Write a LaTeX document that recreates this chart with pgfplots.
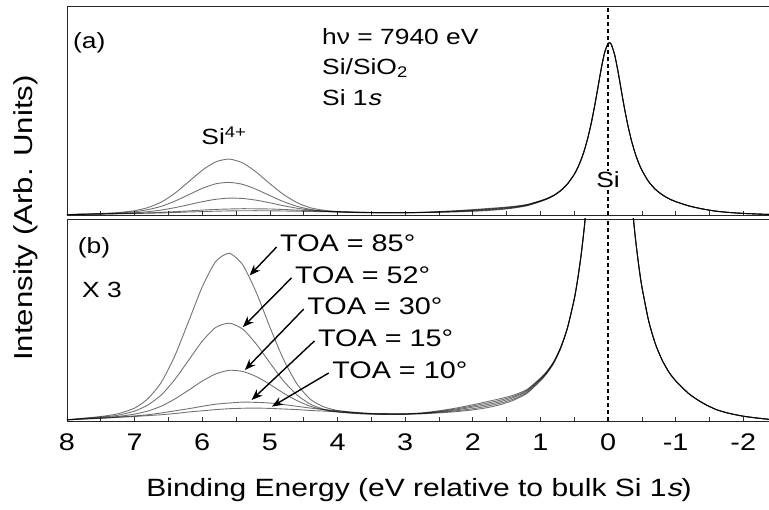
\documentclass[border=0pt]{standalone}
\usepackage{fontspec}
\setmainfont{Liberation Sans}[FakeStretch=1.2]
\newfontfamily\slfont{Liberation Sans}[FakeStretch=1.2, FakeSlant=0.22]
\usepackage{pgfplots}
\usepackage{pgfplotstable}
\pgfplotsset{compat=1.18}
\usetikzlibrary{arrows.meta}

% Si 1s spectra for the five take-off angles (panel a scale; panel b shows the same x3)
\pgfplotstableread{
x     a85    a52    a30    a15    a10
-2.4  0.5    0.5    0.5    0.5    0.5
-2.2  1.0    1.0    1.0    1.0    1.0
-2.0  1.6    1.6    1.6    1.6    1.6
-1.8  2.5    2.5    2.5    2.5    2.5
-1.6  3.8    3.8    3.8    3.8    3.8
-1.4  6.0    6.0    6.0    6.0    6.0
-1.2  9.0    9.0    9.0    9.0    9.0
-1.0  13.4   13.4   13.4   13.4   13.4
-0.9  16.3   16.3   16.3   16.3   16.3
-0.8  20.3   20.3   20.3   20.3   20.3
-0.7  25.7   25.7   25.7   25.7   25.7
-0.6  33.4   33.4   33.4   33.4   33.4
-0.5  44.8   44.8   44.8   44.8   44.8
-0.45 52.5   52.5   52.5   52.5   52.5
-0.4  61.9   61.9   61.9   61.9   61.9
-0.35 73.5   73.5   73.5   73.5   73.5
-0.3  87.6   87.6   87.6   87.6   87.6
-0.25 104.2  104.2  104.2  104.2  104.2
-0.2  123.0  123.0  123.0  123.0  123.0
-0.15 142.6  142.6  142.6  142.6  142.6
-0.1  159.6  159.6  159.6  159.6  159.6
-0.05 170.4  170.4  170.4  170.4  170.4
-0.02 172.3  172.3  172.3  172.3  172.3
0     171.5  171.5  171.5  171.5  171.5
0.05  162.6  162.6  162.6  162.6  162.6
0.1   146.6  146.6  146.6  146.6  146.6
0.15  127.3  127.3  127.3  127.3  127.3
0.2   108.4  108.4  108.4  108.4  108.4
0.25  91.2   91.2   91.2   91.2   91.2
0.3   76.9   76.9   76.8   76.8   76.8
0.35  64.8   64.8   64.7   64.7   64.7
0.4   55.0   55.0   55.0   54.9   54.9
0.45  47.2   47.1   47.1   47.0   47.0
0.5   40.7   40.6   40.6   40.5   40.5
0.6   31.2   31.1   31.0   31.0   30.9
0.7   24.6   24.5   24.4   24.3   24.2
0.8   19.9   19.8   19.7   19.5   19.4
0.9   16.7   16.5   16.3   16.2   16.0
1.0   14.3   14.1   13.9   13.6   13.4
1.2   10.5   10.2   9.9    9.5    9.2
1.4   8.6    8.2    7.8    7.3    6.9
1.6   7.4    6.9    6.4    5.9    5.4
1.8   6.4    5.9    5.4    4.9    4.4
2.0   5.4    5.0    4.6    4.1    3.7
2.25  4.3    4.0    3.7    3.4    3.1
2.5   3.4    3.2    3.05   2.9    2.7
2.75  2.7    2.6    2.6    2.5    2.4
3.0   2.4    2.3    2.3    2.3    2.3
3.25  2.35   2.3    2.2    2.35   2.35
3.5   2.45   2.35   2.25   2.5    2.45
3.75  2.8    2.65   2.5    2.9    2.75
4.0   3.5    3.15   3.0    3.4    3.05
4.2   4.7    3.9    3.7    3.8    3.3
4.4   7.2    5.6    4.9    4.3    3.5
4.6   12.4   8.7    6.8    4.9    3.8
4.8   20.6   13.4   9.3    5.5    4.0
5.0   31.3   19.4   12.2   6.0    4.2
5.2   42.8   25.6   14.8   6.2    4.3
5.4   52.0   30.6   16.5   6.3    4.25
5.6   55.9   32.6   16.9   6.0    4.1
5.8   53.2   31.2   15.7   5.6    3.8
6.0   44.7   26.6   13.3   4.9    3.4
6.2   33.3   20.3   10.3   4.1    3.0
6.4   22.0   14.0   7.4    3.4    2.5
6.6   13.1   8.8    5.0    2.7    2.1
6.8   7.5    5.4    3.35   2.1    1.8
7.0   4.3    3.3    2.3    1.7    1.5
7.25  2.4    1.9    1.5    1.3    1.2
7.5   1.5    1.3    1.1    0.95   0.9
7.75  0.95   0.85   0.7    0.67   0.66
8.0   0.45   0.4    0.38   0.37   0.36
}\spectra

\pgfplotsset{
  panel/.style={
    scale only axis, width=702pt,
    xmin=-2.38, xmax=8, x dir=reverse, ymin=0,
    axis x line*=box, axis y line*=left,
    xtick={-2,-1,0,1,2,3,4,5,6,7,8}, minor x tick num=1,
    xtick pos=bottom, ytick=\empty,
    tick align=inside,
    major tick length=4pt, minor tick length=4pt,
    every tick/.style={black!80, line width=0.7pt},
    axis line style={black!85, line width=0.9pt},
  },
  curve/.style={black, draw opacity=0.55, line width=0.9pt, smooth, tension=0.4},
}
\tikzset{
  toa/.style={anchor=west, inner sep=0pt, font=\fontsize{24}{28}\selectfont},
  toaarr/.style={-{Stealth[length=11pt,width=8.5pt]}, line width=1.4pt, black},
  vdash/.style={black, line width=1.3pt, dash pattern=on 4pt off 3pt},
}

\begin{document}
\begin{tikzpicture}
\useasboundingbox (0,0) rectangle (769pt,-510pt);

% (a) as measured
\begin{axis}[panel, at={(67pt,-215pt)}, anchor=south west, height=209pt, ymax=209,
  xticklabels=\empty]
\addplot[curve] table[x=x,y=a85] {\spectra};
\addplot[curve] table[x=x,y=a52] {\spectra};
\addplot[curve] table[x=x,y=a30] {\spectra};
\addplot[curve] table[x=x,y=a15] {\spectra};
\addplot[curve] table[x=x,y=a10] {\spectra};
\draw[vdash] (axis cs:0,0) -- (axis cs:0,209);
\node[fill=white, inner sep=1pt, font=\fontsize{22}{26}\selectfont] at (axis cs:0,35) {Si};
\end{axis}

% (b) magnified x3
\begin{axis}[panel, at={(67pt,-421pt)}, anchor=south west, height=202pt, ymax=67.33,
  xticklabels={-2,-1,0,1,2,3,4,5,6,7,8},
  xticklabel style={font=\fontsize{24}{28}\selectfont, yshift=-9pt}]
\addplot[curve] table[x=x,y=a85] {\spectra};
\addplot[curve] table[x=x,y=a52] {\spectra};
\addplot[curve] table[x=x,y=a30] {\spectra};
\addplot[curve] table[x=x,y=a15] {\spectra};
\addplot[curve] table[x=x,y=a10] {\spectra};
\draw[vdash] (axis cs:0,0) -- (axis cs:0,67.33);
\node[toa] at (axis cs:4.85,59.3) {TOA = 85°};
\node[toa] at (axis cs:4.63,48.7) {TOA = 52°};
\node[toa] at (axis cs:4.45,38.3) {TOA = 30°};
\node[toa] at (axis cs:4.29,27.7) {TOA = 15°};
\node[toa] at (axis cs:4.08,17.0) {TOA = 10°};
\draw[toaarr] (axis cs:4.90,58.0) -- (axis cs:5.30,48.5);
\draw[toaarr] (axis cs:4.68,47.7) -- (axis cs:5.40,31.3);
\draw[toaarr] (axis cs:4.50,37.3) -- (axis cs:5.37,17.0);
\draw[toaarr] (axis cs:4.34,26.7) -- (axis cs:5.27,7.0);
\draw[toaarr] (axis cs:4.13,16.0) -- (axis cs:4.97,4.8);
\end{axis}

% panel texts
\begin{scope}[every node/.style={font=\fontsize{22}{26}\selectfont, inner sep=0pt}]
\node[anchor=west] at (73pt,-43pt) {(a)};
\node[anchor=west] at (322pt,-37pt) {hν = 7940 eV};
\node[anchor=west] at (322pt,-68pt) {Si/SiO\textsubscript{2}};
\node[anchor=west] at (322pt,-98pt) {Si 1{\slfont s}};
\node at (224pt,-136pt) {Si\textsuperscript{4+}};
\node at (94pt,-248pt) {(b)};
\node at (102pt,-290pt) {X 3};
\end{scope}

\node[font=\fontsize{25}{29}\selectfont] at (419pt,-490pt)
  {Binding Energy (eV relative to bulk Si 1{\slfont s})};
\node[rotate=90, font=\fontsize{26}{30}\selectfont] at (26pt,-218pt)
  {Intensity (Arb. Units)};
\end{tikzpicture}
\end{document}
